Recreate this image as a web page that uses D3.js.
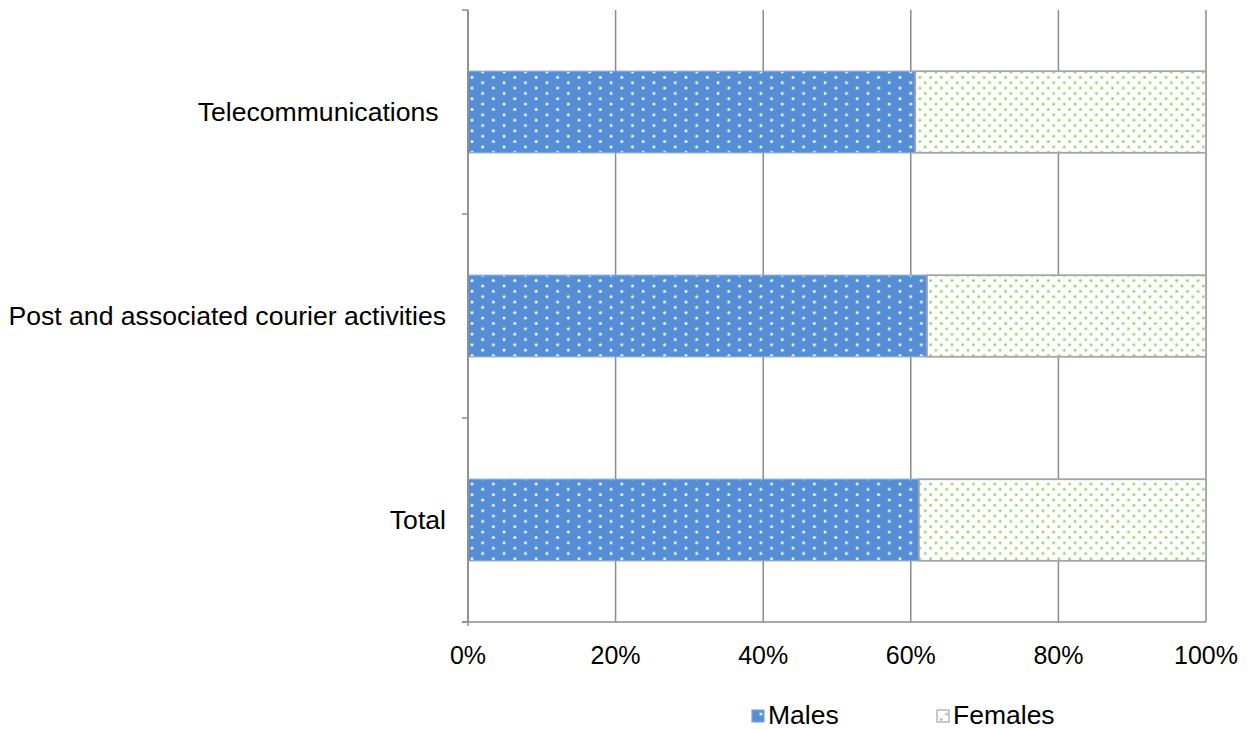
<!DOCTYPE html>
<html>
<head>
<meta charset="utf-8">
<script src="https://cdn.jsdelivr.net/npm/d3@7"></script>
<style>
  html, body { margin: 0; padding: 0; background: #fff; }
  svg { display: block; font-family: "Liberation Sans", Arial, sans-serif; }
</style>
</head>
<body>
<svg id="chart" width="1250" height="729"></svg>
<script>
// Share of employment by sex, per activity (percent)
const categories = ["Telecommunications ", "Post and associated courier activities", "Total"];
const males = [60.6, 62.2, 61.1];
const females = [39.4, 37.8, 38.9];
const seriesNames = ["Males", "Females"];
const xTicks = [0, 20, 40, 60, 80, 100];

const svg = d3.select("#chart");
const margin = { top: 10, left: 468, right: 44, bottom: 107 };
const W = 1250, H = 729;

const x = d3.scaleLinear().domain([0, 100]).range([margin.left, W - margin.right]);
const y = d3.scaleBand().domain(categories).range([margin.top, H - margin.bottom]).paddingInner(0.6).paddingOuter(0.3);
const yOuter = d3.scaleBand().domain(categories).range([margin.top, H - margin.bottom]);

// Dotted fills
const defs = svg.append("defs");
const pm = defs.append("pattern").attr("id", "pMales").attr("patternUnits", "userSpaceOnUse")
  .attr("width", 21.4).attr("height", 10.7).attr("x", margin.left).attr("y", 0);
pm.append("rect").attr("width", 21.4).attr("height", 10.7).attr("fill", "#558ed5");
[[4, 2.5], [14.7, 7.85]].forEach(([cx, cy]) =>
  pm.append("circle").attr("cx", cx).attr("cy", cy).attr("r", 1.5).attr("fill", "#f4f8ff"));

const pf = defs.append("pattern").attr("id", "pFemales").attr("patternUnits", "userSpaceOnUse")
  .attr("width", 10.7).attr("height", 10.7).attr("x", margin.left).attr("y", 0);
pf.append("rect").attr("width", 10.7).attr("height", 10.7).attr("fill", "#ffffff");
[[2.5, 2.5], [7.85, 7.85]].forEach(([cx, cy]) =>
  pf.append("circle").attr("cx", cx).attr("cy", cy).attr("r", 1.5).attr("fill", "#9bd66a"));

const gridColor = "#8c8c8c";

// Vertical gridlines
svg.append("g").selectAll("line").data(xTicks).join("line")
  .attr("x1", d => x(d)).attr("x2", d => x(d))
  .attr("y1", margin.top).attr("y2", H - margin.bottom)
  .attr("stroke", gridColor).attr("stroke-width", 1.5);

// Bars
const rows = categories.map((c, i) => ({ c, m: males[i], f: females[i] }));
const g = svg.append("g");
g.selectAll("rect.m").data(rows).join("rect").attr("class", "m")
  .attr("x", x(0)).attr("y", d => y(d.c))
  .attr("width", d => x(d.m) - x(0)).attr("height", y.bandwidth())
  .attr("fill", "url(#pMales)").attr("stroke", "#7fa6dd").attr("stroke-width", 1.2);
g.selectAll("rect.f").data(rows).join("rect").attr("class", "f")
  .attr("x", d => x(d.m)).attr("y", d => y(d.c))
  .attr("width", d => x(d.m + d.f) - x(d.m)).attr("height", y.bandwidth())
  .attr("fill", "url(#pFemales)").attr("stroke", "#a6a6a6").attr("stroke-width", 1.8);

// Axes
const yAxisG = svg.append("g");
yAxisG.append("line").attr("x1", x(0)).attr("x2", x(0))
  .attr("y1", margin.top).attr("y2", H - margin.bottom + 4)
  .attr("stroke", gridColor).attr("stroke-width", 1.5);
const yTickPos = categories.map(c => yOuter(c)).concat([H - margin.bottom]);
yAxisG.selectAll("line.t").data(yTickPos).join("line").attr("class", "t")
  .attr("x1", x(0) - 6).attr("x2", x(0)).attr("y1", d => d).attr("y2", d => d)
  .attr("stroke", gridColor).attr("stroke-width", 1.5);
svg.append("line").attr("x1", x(0) - 6).attr("x2", x(100))
  .attr("y1", H - margin.bottom).attr("y2", H - margin.bottom)
  .attr("stroke", gridColor).attr("stroke-width", 1.5);

svg.append("g").selectAll("text").data(categories).join("text")
  .attr("x", 446).attr("y", d => y(d) + y.bandwidth() / 2)
  .attr("text-anchor", "end").attr("dominant-baseline", "central")
  .style("white-space", "pre")
  .attr("font-size", 26.6).attr("fill", "#000").text(d => d);

svg.append("g").selectAll("text").data(xTicks).join("text")
  .attr("x", d => x(d)).attr("y", 664)
  .attr("text-anchor", "middle").attr("font-size", 25).attr("fill", "#000")
  .text(d => d + "%");

// Legend
const legend = svg.append("g");
const legendX = [752, 937];
const fills = ["url(#pMales)", "url(#pFemales)"];
const strokes = ["#7fa6dd", "#a6a6a6"];
seriesNames.forEach((n, i) => {
  legend.append("rect").attr("x", legendX[i]).attr("y", 710).attr("width", 12).attr("height", 12)
    .attr("fill", fills[i]).attr("stroke", strokes[i]).attr("stroke-width", 1.2);
  legend.append("text").attr("x", legendX[i] + 16).attr("y", 724)
    .attr("font-size", 26.5).attr("fill", "#000").text(n);
});
</script>
</body>
</html>
